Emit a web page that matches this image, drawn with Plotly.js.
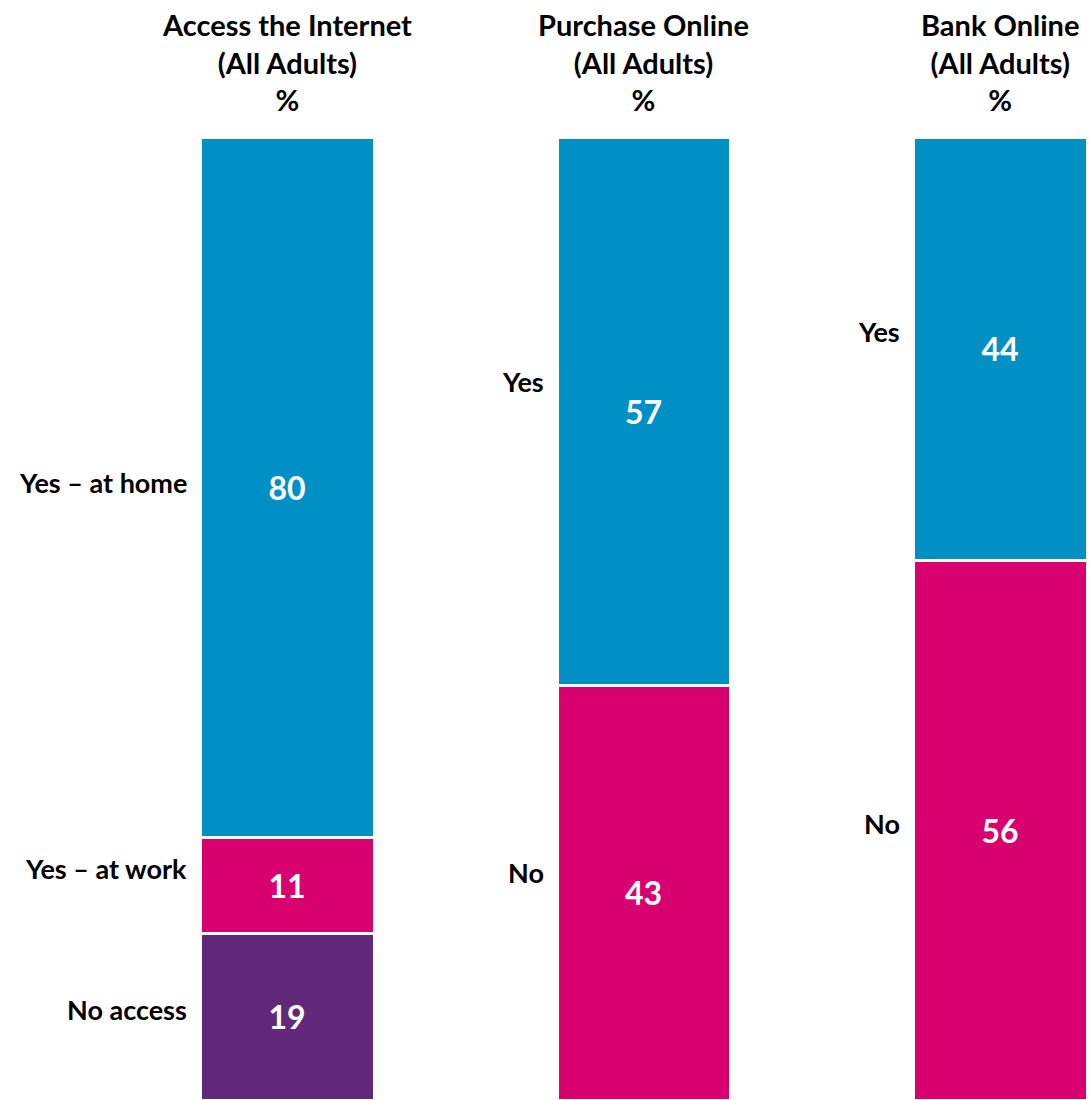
<!DOCTYPE html>
<html>
<head>
<meta charset="utf-8">
<script src="https://cdn.plot.ly/plotly-3.0.1.min.js"></script>
<style>html,body{margin:0;padding:0;background:#fff;}#chart{width:1089px;height:1100px;}</style>
</head>
<body>
<div id="chart"></div>
<script>
// ---- data ----
const panelTitles = ['Access the Internet<br>(All Adults)<br>%', 'Purchase Online<br>(All Adults)<br>%', 'Bank Online<br>(All Adults)<br>%'];
const internetLabels = ['Yes – at home', 'Yes – at work', 'No access'];
const internetValues = [80, 11, 19];
const purchaseLabels = ['Yes', 'No'];
const purchaseValues = [57, 43];
const bankLabels = ['Yes', 'No'];
const bankValues = [44, 56];

// ---- styles ----
const BLUE = '#0090C6', PINK = '#D9006F', PURPLE = '#62297A';
const panels = [
  {labels: internetLabels, values: internetValues, colors: [BLUE, PINK, PURPLE], labelShift: [5, 17, 7]},
  {labels: purchaseLabels, values: purchaseValues, colors: [BLUE, PINK], labelShift: [30, 20]},
  {labels: bankLabels, values: bankValues, colors: [BLUE, PINK], labelShift: [17, 7]}
];
const W = 1089;
const domainsPx = [[200, 374], [557, 730], [913, 1087]];
const FONT = 'Lato, "Open Sans", sans-serif';

const traces = [];
const annotations = [];
const layout = {
  width: 1089, height: 1100,
  margin: {l: 0, r: 0, t: 137, b: 0, pad: 0},
  paper_bgcolor: '#fff', plot_bgcolor: '#fff',
  barmode: 'stack', bargap: 0,
  showlegend: false,
  font: {family: FONT, color: '#000'},
  annotations: annotations
};

panels.forEach((p, i) => {
  const n = i + 1;
  const xa = 'x' + (n === 1 ? '' : n), ya = 'y' + (n === 1 ? '' : n);
  const total = p.values.reduce((a, b) => a + b, 0);
  // stack bottom-up: last listed item is at the bottom
  for (let k = p.values.length - 1; k >= 0; k--) {
    traces.push({
      type: 'bar', x: [0], y: [p.values[k]], width: [1],
      xaxis: xa, yaxis: ya,
      marker: {color: p.colors[k], line: {color: '#fff', width: 3}},
      text: [String(p.values[k])],
      texttemplate: '<b>%{text}</b>',
      textposition: 'inside', insidetextanchor: 'middle', textangle: 0,
      constraintext: 'none',
      textfont: {family: FONT, size: 32, color: '#fff'},
      hoverinfo: 'skip'
    });
  }
  // category labels at segment centres
  let top = total;
  p.values.forEach((v, k) => {
    const centre = top - v / 2;
    top -= v;
    annotations.push({
      xref: xa, yref: ya, x: -0.5, y: centre,
      xanchor: 'right', yanchor: 'middle', xshift: -11, yshift: p.labelShift[k],
      text: '<b>' + p.labels[k] + '</b>', showarrow: false,
      font: {family: FONT, size: 27, color: '#000'}
    });
  });
  // panel title
  annotations.push({
    xref: 'paper', yref: 'paper',
    x: (domainsPx[i][0] + domainsPx[i][1]) / 2 / W, y: 1,
    xanchor: 'center', yanchor: 'bottom', yshift: 18,
    text: '<b>' + panelTitles[i] + '</b>', showarrow: false,
    font: {family: FONT, size: 29, color: '#000'}
  });
  layout['xaxis' + (n === 1 ? '' : n)] = {
    domain: [domainsPx[i][0] / W, domainsPx[i][1] / W], range: [-0.5, 0.5],
    visible: false, fixedrange: true, anchor: ya
  };
  layout['yaxis' + (n === 1 ? '' : n)] = {
    domain: [0, 1], range: [0, total], visible: false, fixedrange: true, anchor: xa
  };
});

Plotly.newPlot('chart', traces, layout, {displayModeBar: false, staticPlot: true});
</script>
</body>
</html>
